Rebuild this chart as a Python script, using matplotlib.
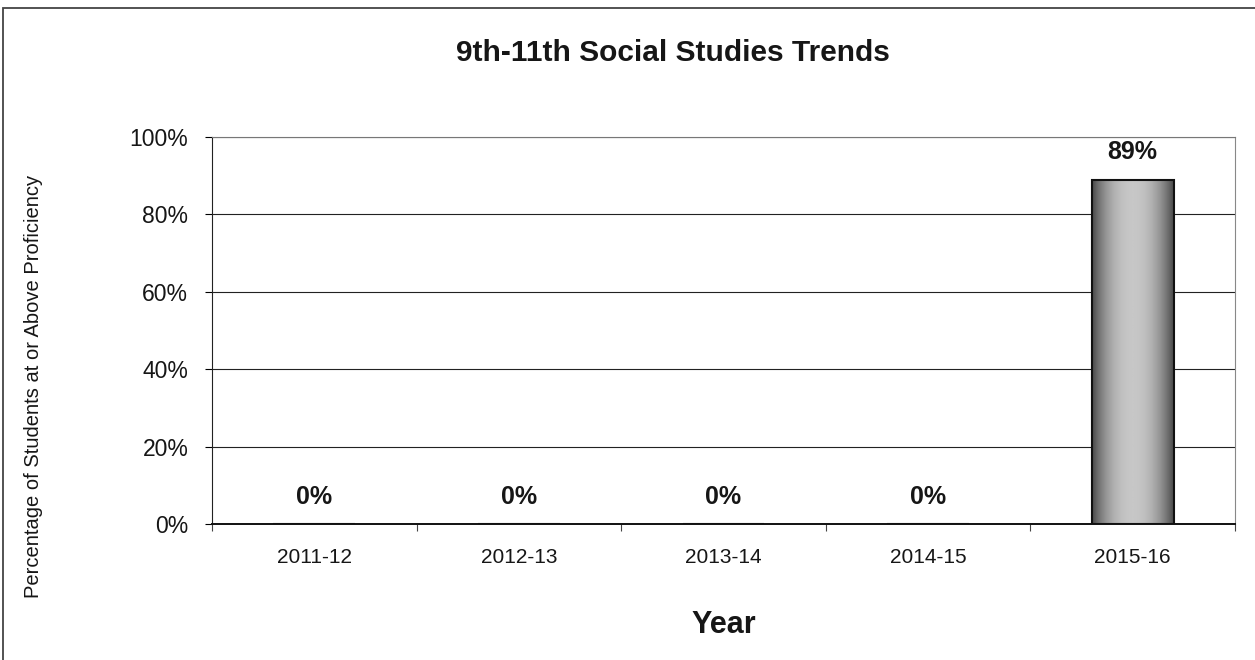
import numpy as np
import matplotlib
matplotlib.use("Agg")
import matplotlib.pyplot as plt
from matplotlib.patches import Rectangle
from matplotlib.ticker import PercentFormatter

# data
years = ["2011-12", "2012-13", "2013-14", "2014-15", "2015-16"]
pct_proficient = [0, 0, 0, 0, 89]
y_ticks = [0, 20, 40, 60, 80, 100]

plt.rcParams['font.family'] = ['Liberation Sans', 'DejaVu Sans']

fig = plt.figure(figsize=(12.55, 6.6), dpi=100)
ax = fig.add_axes([0.1689, 0.2061, 0.8151, 0.5863])

x = np.arange(len(years))
bars = ax.bar(x, pct_proficient, width=0.4, color='none', edgecolor='#111111',
              linewidth=1.5, zorder=3)

# grey cylinder-style gradient inside each bar
grad = np.abs(np.linspace(-1, 1, 64)) ** 2.2
grad = np.vstack([grad, grad])
for b in bars:
    if b.get_height() <= 0:
        continue
    im = ax.imshow(grad, cmap='gray_r', vmin=-0.46, vmax=1.62, aspect='auto',
                   extent=(b.get_x(), b.get_x() + b.get_width(), 0, b.get_height()),
                   zorder=2, interpolation='bicubic')
    im.set_clip_path(b)

for b, v in zip(bars, pct_proficient):
    ax.annotate(f"{v}%", (b.get_x() + b.get_width() / 2, v),
                xytext=(0, 11), textcoords='offset points',
                ha='center', va='bottom', fontsize=18, fontweight='bold',
                color='#161616')

ax.set_xlim(-0.5, len(years) - 0.5)
ax.set_ylim(0, 100)
ax.set_yticks(y_ticks)
ax.yaxis.set_major_formatter(PercentFormatter(decimals=0))
ax.set_xticks(x)
ax.set_xticklabels(years)
ax.set_xticks(np.arange(len(years) + 1) - 0.5, minor=True)
ax.tick_params(axis='x', which='major', length=0, pad=17, labelsize=15,
               labelcolor='#161616')
ax.tick_params(axis='x', which='minor', length=5, width=0.8, color='#444444')
ax.tick_params(axis='y', length=5, width=0.8, pad=12, labelsize=16.5,
               labelcolor='#161616')

ax.grid(axis='y', color='#222222', linewidth=0.8, zorder=1)
ax.set_axisbelow(True)
ax.spines['left'].set_color('#222222')
ax.spines['bottom'].set_color('#111111')
ax.spines['bottom'].set_linewidth(1.4)
ax.spines['right'].set_color('#888888')
ax.spines['right'].set_linewidth(0.8)
ax.spines['top'].set_color('#777777')
ax.spines['top'].set_linewidth(0.8)

fig.text(0.536, 0.92, "9th-11th Social Studies Trends", ha='center', va='center',
         fontsize=21.5, fontweight='bold', color='#161616')
fig.text(0.577, 0.053, "Year", ha='center', va='center',
         fontsize=22, fontweight='bold', color='#161616')
fig.text(0.027, 0.415, "Percentage of Students at or Above Proficiency",
         rotation=90, ha='center', va='center', fontsize=14.5, color='#161616')

# outer chart border (only left and top fall inside the picture)
fig.patches.append(Rectangle((0.0024, -0.02), 1.05, 1.008, transform=fig.transFigure,
                             fill=False, edgecolor='#444444', linewidth=1.3))

fig.savefig("out.png", dpi=100, facecolor='white')
